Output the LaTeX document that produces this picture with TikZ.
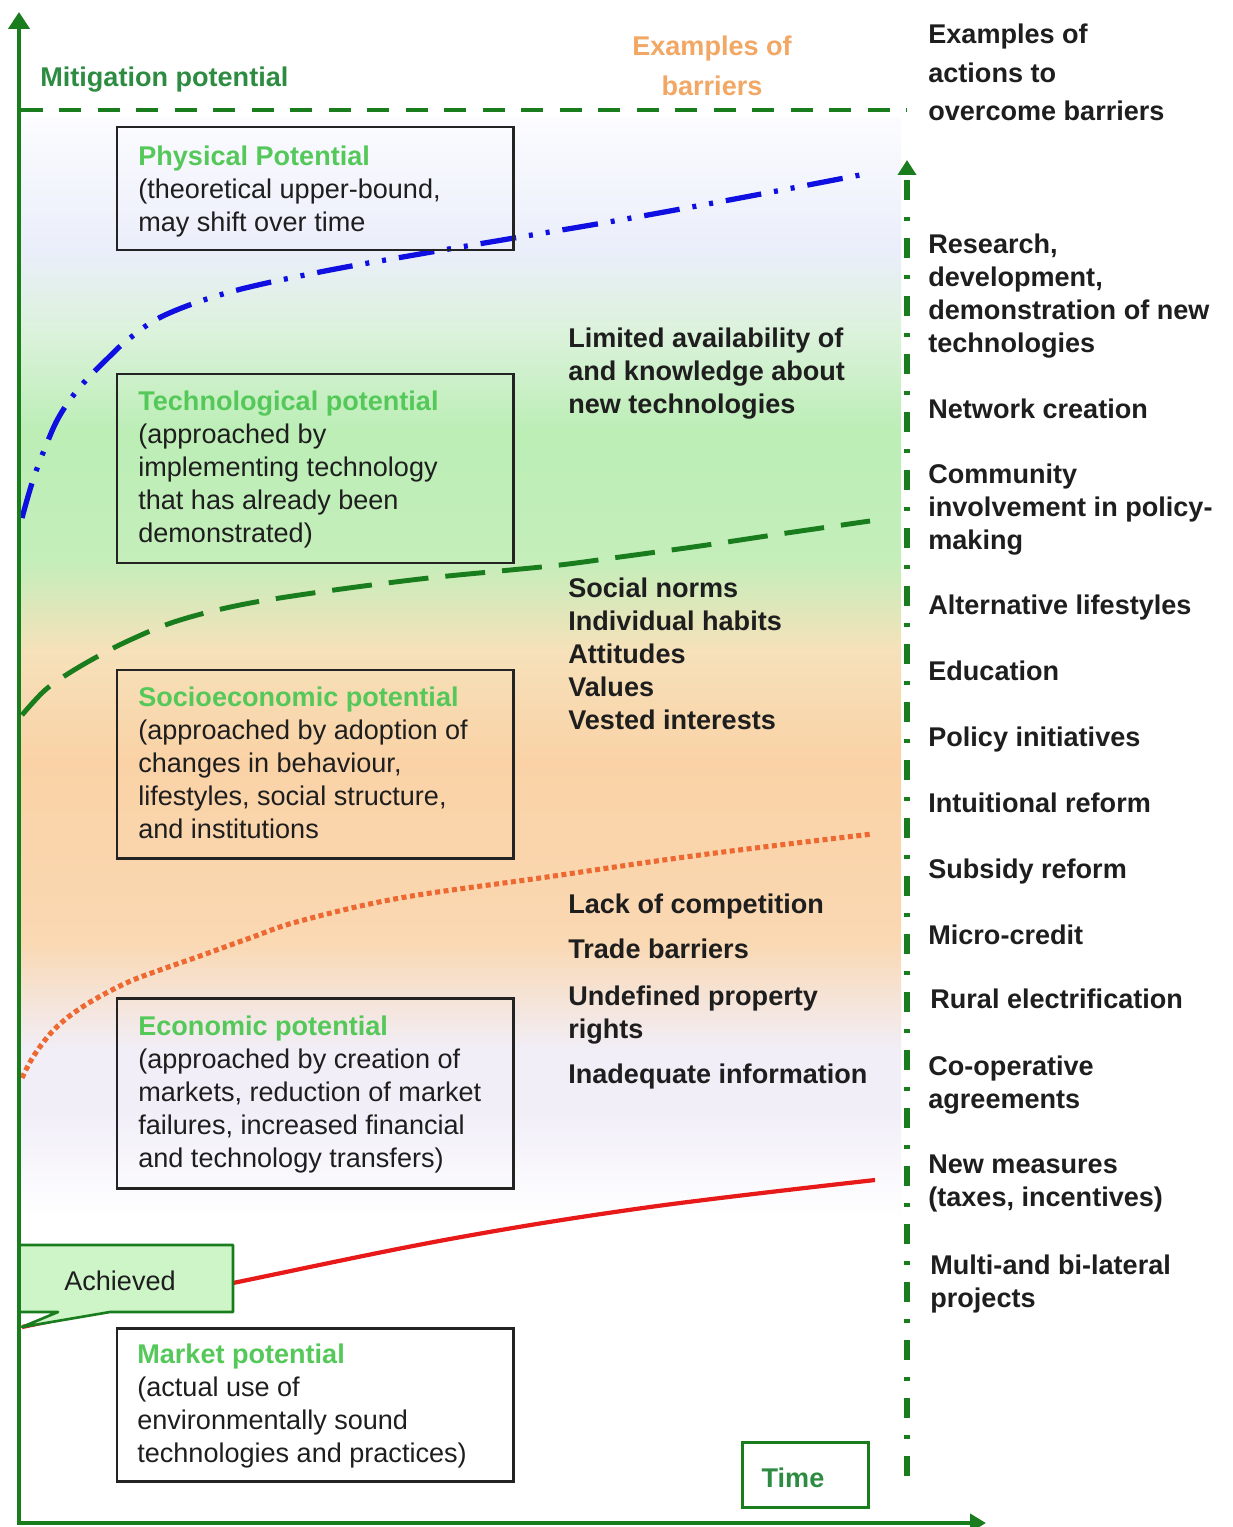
\documentclass[tikz,border=0pt]{standalone}
\usepackage{fontspec}
\setmainfont{Liberation Sans}
\usetikzlibrary{arrows.meta,fit}
\definecolor{axgreen}{RGB}{25,125,30}
\definecolor{hdgreen}{RGB}{85,200,90}
\definecolor{mitgreen}{RGB}{45,140,65}
\definecolor{barorange}{RGB}{242,168,100}
\definecolor{bluecol}{RGB}{15,15,225}
\definecolor{dotorange}{RGB}{238,105,50}
\definecolor{redcol}{RGB}{232,25,25}
\definecolor{achfill}{RGB}{205,245,200}
\definecolor{boxgray}{RGB}{35,35,35}
\definecolor{txtgray}{RGB}{30,30,30}
\definecolor{bgA}{RGB}{252,252,255}
\definecolor{bgB}{RGB}{234,238,250}
\definecolor{bgC}{RGB}{220,242,220}
\definecolor{bgD}{RGB}{188,238,182}
\definecolor{bgE}{RGB}{196,238,186}
\definecolor{bgF}{RGB}{246,225,186}
\definecolor{bgG}{RGB}{250,210,166}
\definecolor{bgH}{RGB}{250,216,178}
\definecolor{bgI}{RGB}{241,238,248}
\newcommand\bsz{\fontsize{15.4pt}{18.7pt}\selectfont}
\newcommand\hd[1]{\textcolor{hdgreen}{\bfseries #1}}
\begin{document}
\begin{tikzpicture}[x=0.02cm,y=-0.02cm,
  every node/.style={inner sep=0pt, font=\bsz, text=txtgray},
  txt/.style={anchor=north west, align=left},
  btxt/.style={txt, font=\bsz\bfseries},
  pbox/.style={draw=boxgray, line width=1.7pt},
  axisline/.style={draw=axgreen, line width=2.8pt},
  bluecurve/.style={draw=bluecol, line width=3pt, dash pattern=on 0.72cm off 0.26cm on 0.08cm off 0.26cm on 0.08cm off 0.26cm},
  greencurve/.style={draw=axgreen, line width=2.8pt, dash pattern=on 0.8cm off 0.34cm},
  dotcurve/.style={draw=dotorange, line width=2.9pt, dash pattern=on 0.1cm off 0.07cm},
  redcurve/.style={draw=redcol, line width=2.4pt},
  topdash/.style={draw=axgreen, line width=2.6pt, dash pattern=on 0.44cm off 0.33cm},
  rightdash/.style={draw=axgreen, line width=3.3pt, dash pattern=on 0.4cm off 0.34cm on 0.08cm off 0.34cm},
  achstyle/.style={draw=axgreen, line width=1.5pt, fill=achfill, line join=round},
  timestyle/.style={draw=axgreen, line width=1.7pt}
]
\useasboundingbox (0,0) rectangle (1232,1527);
\fill[white] (0,0) rectangle (1232,1527);

% background bands
\shade[top color=bgA, bottom color=bgB] (21,118) rectangle (901,251);
\shade[top color=bgB, bottom color=bgC] (21,250) rectangle (901,331);
\shade[top color=bgC, bottom color=bgD] (21,330) rectangle (901,431);
\shade[top color=bgD, bottom color=bgE] (21,430) rectangle (901,561);
\shade[top color=bgE, bottom color=bgF] (21,560) rectangle (901,651);
\shade[top color=bgF, bottom color=bgG] (21,650) rectangle (901,761);
\shade[top color=bgG, bottom color=bgH] (21,760) rectangle (901,941);
\shade[top color=bgH, bottom color=bgI] (21,940) rectangle (901,1051);
\fill[bgI] (21,1050) rectangle (901,1111);
\shade[top color=bgI, bottom color=white] (21,1110) rectangle (901,1220);

% curves
\draw[bluecurve] plot[smooth, tension=0.6] coordinates {(22,518) (33,480) (47,443) (60,415) (80,387) (108,358) (130,338) (165,315) (230,292) (320,272) (420,254) (520,237) (620,220) (740,198) (860,175)};
\draw[greencurve] plot[smooth, tension=0.6] coordinates {(22,715) (43,692) (63,677) (93,659) (130,640) (177,621) (240,605) (320,592) (420,579) (500,571) (560,565) (620,557) (700,546) (780,534) (870,521)};
\draw[dotcurve] plot[smooth, tension=0.6] coordinates {(22,1078) (33,1057) (50,1034) (67,1018) (87,1004) (110,991) (133,980) (160,970) (200,956) (250,938) (300,921) (400,898) (540,878) (700,855) (872,834)};
\draw[redcurve] plot[smooth, tension=0.6] coordinates {(22,1327) (233,1283) (450,1239) (650,1207) (875,1180)};

% callout
\draw[achstyle] (19,1245) -- (233,1245) -- (233,1312) -- (110,1312) -- (22,1327) -- (58,1312) -- (19,1312) -- cycle;
\node (ach) at (120,1281) {Achieved};

% axes
\coordinate (ytip) at (19,12);
\coordinate (orig) at (19,1523);
\coordinate (xtip) at (986,1523);
\draw[axisline, {Triangle[length=0.34cm,width=0.42cm]}-{Triangle[length=0.32cm,width=0.36cm]}] (ytip) -- (orig) -- (xtip);
\coordinate (tdl) at (21,110);
\coordinate (tdr) at (907,110);
\draw[topdash] (tdl) -- (tdr);
\coordinate (rdb) at (907,1476);
\coordinate (rdt) at (907,160);
\draw[rightdash, -{Triangle[length=0.3cm,width=0.36cm]}] (rdb) -- (rdt);

% boxes
\node[pbox, fit={(117,127)(513,250)}] (physbox) {};
\node[pbox, fit={(117,374)(513,563)}] (techbox) {};
\node[pbox, fit={(117,670)(513,858)}] (sociobox) {};
\node[pbox, fit={(117,998)(513,1188)}] (econbox) {};
\node[pbox, fit={(117,1328)(513,1481)}] (marketbox) {};
\node[timestyle, fit={(742,1442)(868,1507)}] (timebox) {};
\node[font=\bsz\bfseries, text=mitgreen] (timetxt) at (793,1478) {Time};

% box texts
\node[txt] (phys) at (138,146) {\hd{Physical Potential}\\(theoretical upper-bound,\\may shift over time};
\node[txt] (tech) at (138,391) {\hd{Technological potential}\\(approached by\\implementing technology\\that has already been\\demonstrated)};
\node[txt] (socio) at (138,687) {\hd{Socioeconomic potential}\\(approached by adoption of\\changes in behaviour,\\lifestyles, social structure,\\and institutions};
\node[txt] (econ) at (138,1016) {\hd{Economic potential}\\(approached by creation of\\markets, reduction of market\\failures, increased financial\\and technology transfers)};
\node[txt] (market) at (137,1344) {\hd{Market potential}\\(actual use of\\environmentally sound\\technologies and practices)};

% headers
\node[btxt, text=mitgreen] (mit) at (40,67) {Mitigation potential};
\node[anchor=north, align=center, font=\fontsize{15.4pt}{22.7pt}\selectfont\bfseries, text=barorange] (exb) at (712,36) {Examples of\\barriers};
\node[btxt, font=\fontsize{15.4pt}{21.8pt}\selectfont\bfseries] (exa) at (928,24) {Examples of\\actions to\\overcome barriers};

% barriers
\node[btxt] (b1) at (568,328) {Limited availability of\\and knowledge about\\new technologies};
\node[btxt] (b2) at (568,578) {Social norms\\Individual habits\\Attitudes\\Values\\Vested interests};
\node[btxt] (b3) at (568,894) {Lack of competition};
\node[btxt] (b4) at (568,939) {Trade barriers};
\node[btxt] (b5) at (568,986) {Undefined property\\rights};
\node[btxt] (b6) at (568,1064) {Inadequate information};

% actions
\node[btxt] (a1) at (928,234) {Research,\\development,\\demonstration of new\\technologies};
\node[btxt] (a2) at (928,399) {Network creation};
\node[btxt] (a3) at (928,464) {Community\\involvement in policy-\\making};
\node[btxt] (a4) at (928,595) {Alternative lifestyles};
\node[btxt] (a5) at (928,661) {Education};
\node[btxt] (a6) at (928,727) {Policy initiatives};
\node[btxt] (a7) at (928,793) {Intuitional reform};
\node[btxt] (a8) at (928,859) {Subsidy reform};
\node[btxt] (a9) at (928,925) {Micro-credit};
\node[btxt] (a10) at (930,989) {Rural electrification};
\node[btxt] (a11) at (928,1056) {Co-operative\\agreements};
\node[btxt] (a12) at (928,1155) {New measures\\(taxes, incentives)};
\node[btxt] (a13) at (930,1255) {Multi-and bi-lateral\\projects};
\end{tikzpicture}
\end{document}
